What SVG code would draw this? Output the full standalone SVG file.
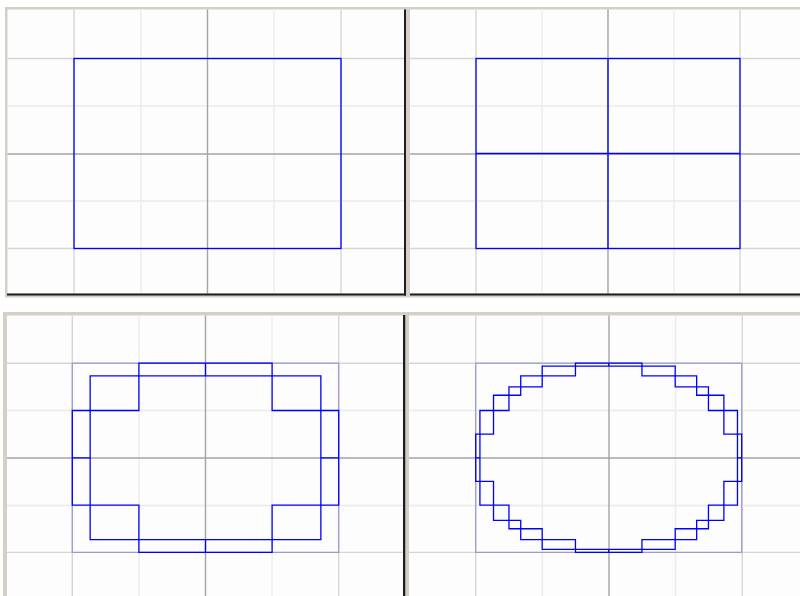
<svg xmlns="http://www.w3.org/2000/svg" width="800" height="596" viewBox="0 0 800 596">
<style>
.bev{fill:#d4d0c8}
.pane{fill:#fdfdfd}
.dark{fill:#1e1e1e}
.g1{stroke:#ebebeb;stroke-width:1.4;fill:none}
.g2{stroke:#d6d6d6;stroke-width:1.4;fill:none}
.ax{stroke:#a4a4a4;stroke-width:1.4;fill:none}
.bb{stroke:#9a9acb;stroke-width:1.2;fill:none}
.bl{stroke:#0000ff;stroke-width:1.3;fill:none}
</style>
<rect width="800" height="596" fill="#ffffff"/>

<g id="panel-top-left">
<rect class="bev" x="5" y="7" width="402" height="290.5"/>
<rect class="pane" x="7.5" y="9.5" width="396.5" height="284"/>
<g>
<path class="g2" d="M74 9.5V293.5M341 9.5V293.5M7.5 58.5H404M7.5 248.5H404"/>
<path class="g1" d="M141 9.5V293.5M274 9.5V293.5M7.5 106H404M7.5 201H404"/>
<path class="ax" d="M207.5 9.5V293.5M7.5 154H404"/>
</g>
<rect class="bl" x="74" y="58.5" width="267" height="190"/>
<rect class="dark" x="7" y="293.5" width="399" height="2"/>
<rect class="dark" x="404" y="9.5" width="2" height="286"/>
</g>

<g id="panel-top-right">
<rect class="bev" x="407" y="7" width="393" height="290.5"/>
<rect class="pane" x="410" y="9.5" width="390" height="284"/>
<g>
<path class="g2" d="M476 9.5V293.5M740 9.5V293.5M410 58.5H800M410 248.5H800"/>
<path class="g1" d="M542 9.5V293.5M674 9.5V293.5M410 106H800M410 201H800"/>
<path class="ax" d="M608 9.5V293.5M410 154H800"/>
</g>
<rect class="bl" x="476" y="58.5" width="264" height="190"/>
<path class="bl" d="M608 58.5V248.5M476 153.5H740"/>
<rect class="dark" x="410" y="293.5" width="390" height="2"/>
</g>

<g id="panel-bottom-left">
<rect class="bev" x="3" y="312" width="404" height="284"/>
<rect class="pane" x="7" y="315.5" width="396" height="280.5"/>
<g>
<path class="g2" d="M72.3 315.5V596M338.7 315.5V596M7 363.2H403M7 552.4H403"/>
<path class="g1" d="M139 315.5V596M272 315.5V596M7 410.5H403M7 505.5H403"/>
<path class="ax" d="M205.5 315.5V596M7 458H403"/>
</g>
<rect class="bb" x="72.3" y="363.2" width="266.4" height="189.2"/>
<path class="bl" d="M205.5 363.2H272.1V375.88H320.85V410.5H338.7V457.8V505.1H320.85V539.72H272.1V552.4H205.5H138.9V539.72H90.15V505.1H72.3V457.8V410.5H90.15V375.88H138.9V363.2Z"/>
<path class="bl" d="M205.5 363.2V375.88H272.1V410.5H320.85V457.8H338.7H320.85V505.1H272.1V539.72H205.5V552.4V539.72H138.9V505.1H90.15V457.8H72.3H90.15V410.5H138.9V375.88H205.5V363.2"/>
<rect class="dark" x="403" y="315" width="2.5" height="281"/>
</g>

<g id="panel-bottom-right">
<rect class="bev" x="405.5" y="312" width="394.5" height="284"/>
<rect class="pane" x="409" y="315.5" width="391" height="280.5"/>
<g>
<path class="g2" d="M475.7 315.5V596M742.3 315.5V596M409 363.2H800M409 552.4H800"/>
<path class="g1" d="M542.4 315.5V596M675.6 315.5V596M409 410.5H800M409 505.5H800"/>
<path class="ax" d="M609 315.5V596M409 458H800"/>
</g>
<rect class="bb" x="475.7" y="363.2" width="266" height="189.2"/>
<path class="bl" d="M608.7 363.2H641.95V366.21H675.2V375.88H696.67V386.85H708.45V395.23H723.88V410.5H737.47V434.15H741.7V457.8V481.45H737.47V505.1H723.88V520.37H708.45V528.75H696.67V539.72H675.2V549.39H641.95V552.4H608.7H575.45V549.39H542.2V539.72H520.73V528.75H508.95V520.37H493.52V505.1H479.93V481.45H475.7V457.8V434.15H479.93V410.5H493.52V395.23H508.95V386.85H520.73V375.88H542.2V366.21H575.45V363.2Z"/>
<path class="bl" d="M608.7 363.2V366.21H641.95V375.88H675.2V386.85H696.67V395.23H708.45V410.5H723.88V434.15H737.47V457.8H741.7H737.47V481.45H723.88V505.1H708.45V520.37H696.67V528.75H675.2V539.72H641.95V549.39H608.7V552.4V549.39H575.45V539.72H542.2V528.75H520.73V520.37H508.95V505.1H493.52V481.45H479.93V457.8H475.7H479.93V434.15H493.52V410.5H508.95V395.23H520.73V386.85H542.2V375.88H575.45V366.21H608.7V363.2"/>
</g>
</svg>
